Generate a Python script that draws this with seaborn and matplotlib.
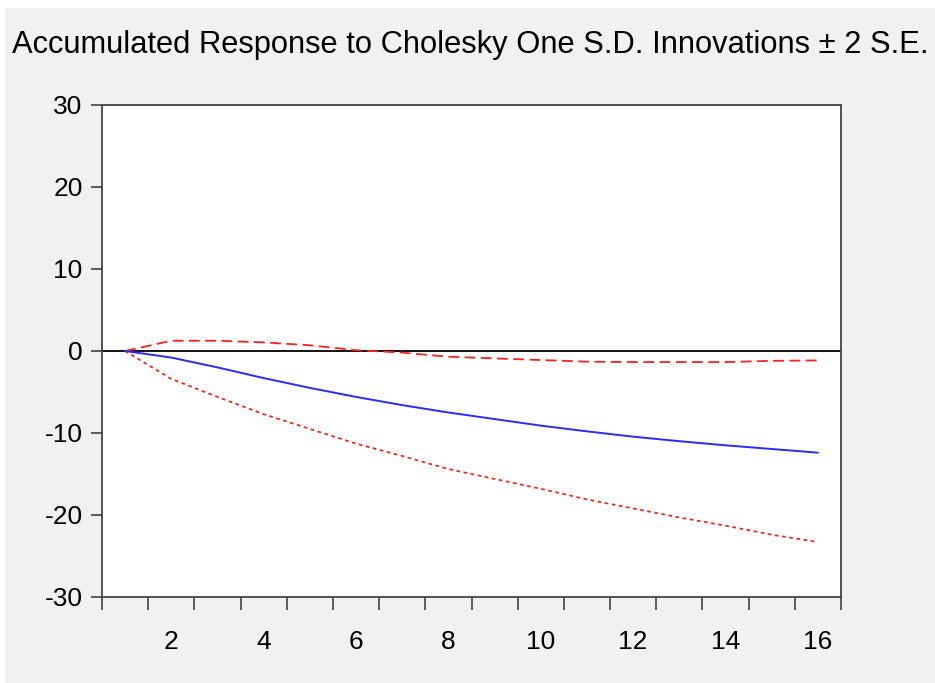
import numpy as np
import pandas as pd
import seaborn as sns
import matplotlib.pyplot as plt
from matplotlib.patches import Rectangle

# accumulated response, periods 1..16
period = list(range(1, 17))
response = [0, -0.8, -2.0, -3.3, -4.5, -5.6, -6.6, -7.5, -8.3, -9.1, -9.8, -10.45, -11.0, -11.5, -11.95, -12.4]
upper_se = [0, 1.25, 1.25, 1.05, 0.7, 0.1, -0.2, -0.7, -0.9, -1.1, -1.3, -1.35, -1.35, -1.35, -1.2, -1.15]
lower_se = [0, -3.4, -5.6, -7.7, -9.5, -11.3, -12.8, -14.4, -15.6, -16.8, -18.1, -19.2, -20.3, -21.3, -22.4, -23.3]
y_ticks = [-30, -20, -10, 0, 10, 20, 30]
x_labels = [2, 4, 6, 8, 10, 12, 14, 16]
title = "Accumulated Response to Cholesky One S.D. Innovations \u00b1 2 S.E."

df = pd.DataFrame({'period': period, 'response': response,
                   'upper': upper_se, 'lower': lower_se})

sns.set_style("white")
plt.rcParams['font.family'] = ['Liberation Sans', 'DejaVu Sans']

fig = plt.figure(figsize=(9.35, 6.83), dpi=100)
fig.patch.set_facecolor('white')
# grey panel behind the chart (thin white border at top/left like the source)
fig.patches.append(Rectangle((5 / 935, 0), 1 - 5 / 935, 1 - 8 / 683,
                             transform=fig.transFigure, facecolor='#f1f1f1',
                             edgecolor='none', zorder=-10))

ax = fig.add_axes([102 / 935, 1 - 597 / 683, 739 / 935, 492 / 683])
ax.set_facecolor('white')

ax.axhline(0, color='black', lw=1.3, zorder=1)
sns.lineplot(data=df, x='period', y='response', ax=ax, color='#2a2aff', lw=1.4, zorder=3)
sns.lineplot(data=df, x='period', y='upper', ax=ax, color='#ff2020', lw=1.3,
             linestyle=(0, (6, 3)), zorder=2)
sns.lineplot(data=df, x='period', y='lower', ax=ax, color='#ff2020', lw=1.3,
             linestyle=(0, (2, 2)), zorder=2)

ax.set_xlim(0.5, 16.5)
ax.set_ylim(-30, 30)
ax.set_xlabel('')
ax.set_ylabel('')

ax.set_yticks(y_ticks)
ax.set_yticklabels([str(v) for v in y_ticks])
ax.tick_params(axis='y', direction='out', length=8, width=1.1, pad=6,
               labelsize=19, labelcolor='black', color='#333333', left=True)

ax.set_xticks(x_labels)
ax.set_xticklabels([str(v) for v in x_labels])
ax.set_xticks(np.arange(0.5, 17, 1), minor=True)
ax.tick_params(axis='x', which='major', length=0, pad=24, labelsize=19,
               labelcolor='black')
ax.tick_params(axis='x', which='minor', direction='out', length=9.5, width=1.1,
               color='#333333', bottom=True)

for s in ax.spines.values():
    s.set_visible(True)
    s.set_color('#444444')
    s.set_linewidth(1.3)

fig.text(470 / 935, 1 - 53 / 683, title, ha='center', va='baseline',
         fontsize=22.2, color='black')

fig.savefig('out.png', dpi=100, facecolor=fig.get_facecolor())
